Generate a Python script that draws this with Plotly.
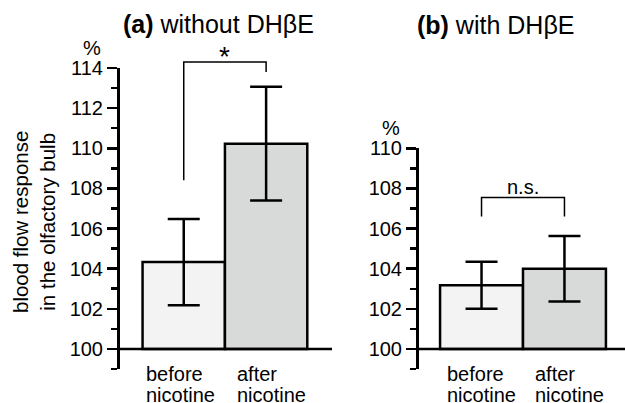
import plotly.graph_objects as go

# ---- data ----
categories = ["before nicotine", "after nicotine"]
label_top = ["before", "after"]
label_bottom = ["nicotine", "nicotine"]

values_a = [104.33, 110.23]      # without DHbE
errors_a = [2.15, 2.83]
values_b = [103.17, 104.00]      # with DHbE
errors_b = [1.17, 1.63]

bar_colors = ["#f3f3f3", "#d8d9d9"]

yticks_a = [100, 102, 104, 106, 108, 110, 112, 114]
yticks_b = [100, 102, 104, 106, 108, 110]

# significance brackets: (left leg bottom, top, right leg bottom, label)
sig_a = (108.4, 114.3, 113.8, "*")
sig_b = (106.6, 107.55, 106.6, "n.s.")

FONT = "Liberation Sans, Arial, Helvetica, sans-serif"
W, H = 625, 403

xr_a = [-0.78, 1.80]
xr_b = [-0.76, 1.73]
yr_a = [99, 114]
yr_b = [99, 110]

fig = go.Figure()

x_pos = list(range(len(categories)))

for vals, errs, xa, ya in [(values_a, errors_a, "x", "y"), (values_b, errors_b, "x2", "y2")]:
    fig.add_trace(go.Bar(
        x=x_pos, y=[v - 100 for v in vals], base=100, width=1,
        marker=dict(color=bar_colors, line=dict(color="black", width=2.5)),
        error_y=dict(type="data", array=errs, visible=True, color="black",
                     thickness=2.5, width=16),
        xaxis=xa, yaxis=ya, showlegend=False, hoverinfo="skip",
    ))

common_x = dict(showline=False, showticklabels=False, ticks="", showgrid=False,
                zeroline=False, fixedrange=True, automargin=False)
common_y = dict(showline=True, linecolor="black", linewidth=2.5, ticks="outside",
                ticklen=10, tickwidth=2.5, tickcolor="black", showgrid=False,
                zeroline=False, automargin=False, fixedrange=True,
                tickfont=dict(family=FONT, size=20, color="black"),
                minor=dict(dtick=1, tick0=99, ticks="outside", ticklen=6,
                           tickwidth=2.5, tickcolor="black", showgrid=False))

ybot = (H - 369) / H
fig.update_layout(
    width=W, height=H, margin=dict(l=0, r=0, t=0, b=0, pad=0),
    autosize=False,
    paper_bgcolor="white", plot_bgcolor="rgba(0,0,0,0)",
    bargap=0,
    xaxis=dict(domain=[119.5 / W, 332 / W], range=xr_a, **common_x),
    yaxis=dict(domain=[ybot, (H - 68) / H], range=yr_a, tickvals=yticks_a,
               anchor="x", **common_y),
    xaxis2=dict(domain=[418.5 / W, 1.0], range=xr_b, anchor="y2", **common_x),
    yaxis2=dict(domain=[ybot, (H - 148.3) / H], range=yr_b, tickvals=yticks_b,
                anchor="x2", **common_y),
)

shapes = []
annotations = []

for xa, ya, xr, yr in [("x", "y", xr_a, yr_a), ("x2", "y2", xr_b, yr_b)]:
    # baseline at 100
    shapes.append(dict(type="line", xref=f"{xa} domain", yref=ya, x0=0, x1=1,
                       y0=100, y1=100, line=dict(color="black", width=2.5)))

def fx(x, xr):
    return (x - xr[0]) / (xr[1] - xr[0])

def fy(y, yr):
    return (y - yr[0]) / (yr[1] - yr[0])

for sig, xa, ya, xr, yr, fs, ysh in [(sig_a, "x", "y", xr_a, yr_a, 28, -12),
                                     (sig_b, "x2", "y2", xr_b, yr_b, 20, -3)]:
    lb, top, rb, lab = sig
    x0, x1 = fx(x_pos[0], xr), fx(x_pos[1], xr)
    path = (f"M {x0} {fy(lb, yr)} L {x0} {fy(top, yr)} "
            f"L {x1} {fy(top, yr)} L {x1} {fy(rb, yr)}")
    shapes.append(dict(type="path", xref=f"{xa} domain", yref=f"{ya} domain",
                       path=path, line=dict(color="black", width=1.5)))
    annotations.append(dict(text=lab, xref=f"{xa} domain", yref=f"{ya} domain",
                            x=(x0 + x1) / 2, y=fy(top, yr), xanchor="center",
                            yanchor="bottom", yshift=ysh, showarrow=False,
                            font=dict(family=FONT, size=fs, color="black")))

# category labels (two lines, left aligned)
for xa, ya, shifts in [("x", "y", [-40, -31]), ("x2", "y2", [-37, -31])]:
    for i in x_pos:
        for txt, ys in [(label_top[i], -5), (label_bottom[i], -26)]:
            annotations.append(dict(text=txt, xref=xa, yref=f"{ya} domain",
                                    x=i, y=0, xanchor="left", yanchor="middle",
                                    xshift=shifts[i], yshift=ys, showarrow=False,
                                    font=dict(family=FONT, size=20, color="black")))

# % unit labels
for xa, ya in [("x", "y"), ("x2", "y2")]:
    annotations.append(dict(text="%", xref=f"{xa} domain", yref=f"{ya} domain",
                            x=0, y=1, xanchor="center", yanchor="bottom",
                            xshift=-28, yshift=7, showarrow=False,
                            font=dict(family=FONT, size=20, color="black")))

# panel titles
annotations.append(dict(text="<b>(a)</b> without DHβE", xref="paper", yref="paper",
                        x=218 / W, y=(H - 24) / H, xanchor="center", yanchor="middle",
                        showarrow=False, font=dict(family=FONT, size=25, color="black")))
annotations.append(dict(text="<b>(b)</b> with DHβE", xref="paper", yref="paper",
                        x=495 / W, y=(H - 25) / H, xanchor="center", yanchor="middle",
                        showarrow=False, font=dict(family=FONT, size=25, color="black")))

# y axis title
annotations.append(dict(text="blood flow response<br>in the olfactory bulb",
                        xref="paper", yref="paper", x=34 / W, y=(H - 222) / H,
                        xanchor="center", yanchor="middle", textangle=-90,
                        showarrow=False,
                        font=dict(family=FONT, size=20.5, color="black")))

fig.update_layout(shapes=shapes, annotations=annotations)
fig.write_html("out.html",
               config={"displayModeBar": False, "staticPlot": True},
               post_script="document.body.style.margin='0';document.body.style.overflow='hidden';")
